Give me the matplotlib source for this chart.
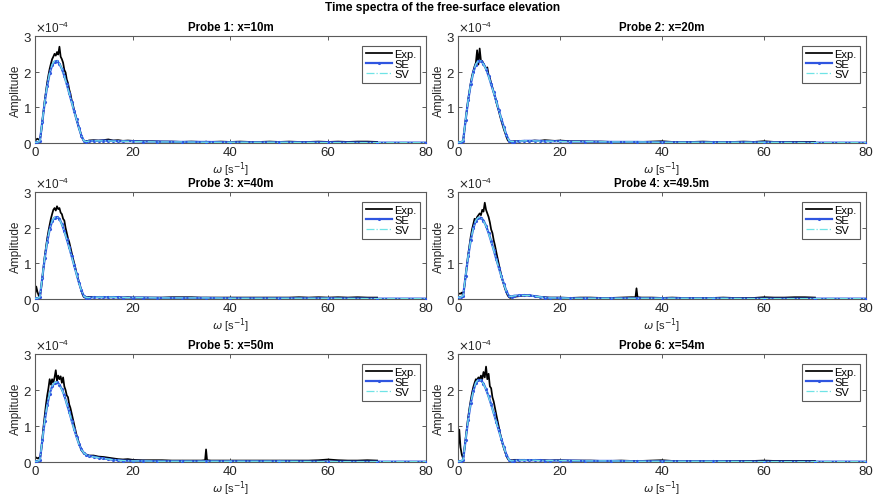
import matplotlib
matplotlib.use("Agg")
import matplotlib.pyplot as plt
from matplotlib.ticker import ScalarFormatter

plt.rcParams["font.family"] = ["Liberation Sans", "DejaVu Sans"]
plt.rcParams["mathtext.fontset"] = "dejavusans"

# ======================================================
# Data (amplitudes in units of 1e-4)
# ======================================================

titles = [
    "Probe 1: x=10m", "Probe 2: x=20m",
    "Probe 3: x=40m", "Probe 4: x=49.5m",
    "Probe 5: x=50m", "Probe 6: x=54m",
]

legend_labels = ["Exp.", "SE", "SV"]

# frequency samples of the experimental spectra
w_exp_peak = [0, 0.25, 0.5, 0.75, 1.0, 1.25, 1.5, 1.75, 2.0, 2.25, 2.5, 2.75,
              3.0, 3.25, 3.5, 3.75, 4.0, 4.25, 4.5, 4.75, 5.0, 5.25, 5.5, 5.75,
              6.0, 6.25, 6.5, 6.75, 7.0, 7.25, 7.5, 7.75, 8.0, 8.25, 8.5, 8.75,
              9.0, 9.25, 9.5, 9.75, 10.0, 10.25, 10.5, 10.75, 11.0]
w_exp_tail = [12, 13, 14, 15, 16, 17, 18, 19, 20, 22, 24, 26, 28, 30, 32, 34,
              34.8, 35, 35.2, 36, 38, 40, 42, 44, 46, 48, 50, 52, 54, 56, 58,
              60, 62, 64, 66, 68, 70]

# frequency samples of the model spectra
w_model = [0, 0.5, 1, 1.5, 2, 2.5, 3, 3.5, 4, 4.5, 5, 5.5, 6, 6.5, 7, 7.5, 8,
           8.5, 9, 9.5, 10, 10.5, 11, 12, 13, 14, 15, 16, 17, 18, 20, 22, 25,
           30, 35, 40, 50, 60, 70, 80]

# ----------------------------
# Experimental spectra
# ----------------------------

exp1_peak = [0.05, 0.10, 0.12, 0.10, 0.08, 0.30, 0.62, 0.90, 1.20, 1.45, 1.70, 1.90,
             2.08, 2.22, 2.35, 2.42, 2.50, 2.45, 2.55, 2.48, 2.70, 2.42, 2.35, 2.25,
             2.05, 1.98, 1.78, 1.68, 1.50, 1.38, 1.20, 1.08, 0.92, 0.80, 0.66, 0.55,
             0.42, 0.32, 0.20, 0.12, 0.06, 0.04, 0.06, 0.05, 0.07]
exp1_tail = [0.08, 0.07, 0.08, 0.10, 0.07, 0.08, 0.06, 0.07, 0.06, 0.05, 0.05, 0.04,
             0.04, 0.03, 0.04, 0.03, 0.03, 0.04, 0.03, 0.03, 0.04, 0.03, 0.04, 0.03,
             0.03, 0.04, 0.03, 0.04, 0.03, 0.03, 0.04, 0.03, 0.04, 0.03, 0.04, 0.04, 0.03]

exp2_peak = [0.03, 0.03, 0.03, 0.03, 0.05, 0.35, 0.65, 0.95, 1.22, 1.45, 1.68, 1.88,
             2.02, 2.15, 2.25, 2.60, 2.20, 2.65, 2.30, 2.30, 2.22, 2.15, 2.08, 2.12,
             1.90, 1.82, 1.68, 1.55, 1.42, 1.30, 1.15, 1.02, 0.90, 0.75, 0.62, 0.50,
             0.38, 0.28, 0.17, 0.08, 0.04, 0.03, 0.04, 0.04, 0.05]
exp2_tail = [0.05, 0.06, 0.05, 0.07, 0.06, 0.08, 0.07, 0.06, 0.07, 0.05, 0.05, 0.04,
             0.04, 0.03, 0.03, 0.03, 0.03, 0.03, 0.03, 0.03, 0.04, 0.05, 0.03, 0.03,
             0.03, 0.04, 0.03, 0.03, 0.03, 0.04, 0.03, 0.05, 0.03, 0.03, 0.03, 0.03, 0.03]

exp3_peak = [0.10, 0.35, 0.20, 0.10, 0.05, 0.30, 0.60, 0.90, 1.20, 1.45, 1.70, 1.90,
             2.08, 2.25, 2.38, 2.50, 2.55, 2.48, 2.60, 2.52, 2.55, 2.42, 2.38, 2.25,
             2.20, 2.00, 1.85, 1.70, 1.60, 1.45, 1.30, 1.15, 1.02, 0.88, 0.72, 0.60,
             0.46, 0.35, 0.22, 0.12, 0.05, 0.04, 0.05, 0.05, 0.06]
exp3_tail = [0.06, 0.05, 0.05, 0.05, 0.05, 0.05, 0.04, 0.05, 0.04, 0.04, 0.04, 0.04,
             0.05, 0.05, 0.05, 0.04, 0.04, 0.04, 0.04, 0.04, 0.04, 0.04, 0.04, 0.04,
             0.04, 0.04, 0.04, 0.04, 0.05, 0.04, 0.05, 0.04, 0.05, 0.04, 0.05, 0.04, 0.04]

exp4_peak = [0.15, 0.15, 0.15, 0.18, 0.10, 0.35, 0.65, 0.95, 1.25, 1.50, 1.75, 1.95,
             2.10, 2.25, 2.20, 2.30, 2.35, 2.40, 2.35, 2.50, 2.45, 2.70, 2.50, 2.40,
             2.30, 2.15, 1.95, 1.85, 1.65, 1.50, 1.32, 1.15, 0.98, 0.82, 0.66, 0.52,
             0.40, 0.28, 0.18, 0.10, 0.05, 0.03, 0.04, 0.05, 0.06]
exp4_tail = [0.08, 0.10, 0.10, 0.08, 0.06, 0.05, 0.04, 0.04, 0.04, 0.03, 0.04, 0.04,
             0.03, 0.03, 0.04, 0.05, 0.05, 0.30, 0.05, 0.04, 0.04, 0.03, 0.04, 0.03,
             0.03, 0.03, 0.03, 0.04, 0.03, 0.03, 0.03, 0.05, 0.04, 0.04, 0.05, 0.05, 0.04]

exp5_peak = [0.15, 0.12, 0.10, 0.12, 0.08, 0.30, 0.65, 1.00, 1.30, 1.60, 1.85, 2.05,
             2.30, 2.15, 2.30, 2.20, 2.35, 2.55, 2.25, 2.40, 2.30, 2.38, 2.20, 2.35,
             2.10, 2.00, 1.85, 1.80, 1.60, 1.50, 1.35, 1.20, 1.05, 0.90, 0.75, 0.65,
             0.52, 0.42, 0.34, 0.28, 0.24, 0.22, 0.20, 0.20, 0.18]
exp5_tail = [0.18, 0.15, 0.14, 0.12, 0.10, 0.08, 0.07, 0.08, 0.06, 0.05, 0.05, 0.05,
             0.04, 0.04, 0.04, 0.04, 0.05, 0.35, 0.05, 0.04, 0.04, 0.04, 0.04, 0.04,
             0.04, 0.04, 0.04, 0.04, 0.04, 0.04, 0.05, 0.07, 0.05, 0.04, 0.04, 0.05, 0.04]

exp6_peak = [0.30, 0.90, 0.40, 0.20, 0.10, 0.35, 0.65, 0.95, 1.25, 1.50, 1.72, 1.92,
             2.08, 2.20, 2.30, 2.28, 2.35, 2.30, 2.40, 2.30, 2.50, 2.35, 2.65, 2.30,
             2.45, 2.10, 2.05, 1.80, 1.68, 1.50, 1.32, 1.15, 0.98, 0.80, 0.65, 0.50,
             0.38, 0.27, 0.17, 0.09, 0.05, 0.04, 0.05, 0.05, 0.06]
exp6_tail = [0.06, 0.06, 0.05, 0.05, 0.05, 0.05, 0.04, 0.05, 0.05, 0.04, 0.04, 0.04,
             0.03, 0.03, 0.04, 0.03, 0.03, 0.03, 0.03, 0.03, 0.04, 0.05, 0.03, 0.03,
             0.03, 0.03, 0.03, 0.03, 0.03, 0.03, 0.03, 0.04, 0.03, 0.03, 0.03, 0.03, 0.03]

# ----------------------------
# Model spectra (SE / SV)
# ----------------------------

se1 = [0.02, 0.02, 0.05, 0.60, 1.15, 1.60, 1.95, 2.18, 2.28, 2.30, 2.22, 2.08, 1.88,
       1.65, 1.40, 1.15, 0.90, 0.66, 0.42, 0.20, 0.06, 0.04, 0.05, 0.06, 0.06, 0.07,
       0.06, 0.06, 0.05, 0.05, 0.05, 0.04, 0.04, 0.03, 0.03, 0.02, 0.02, 0.02, 0.01, 0.01]
sv1 = [0.02, 0.02, 0.06, 0.62, 1.17, 1.62, 1.97, 2.20, 2.30, 2.31, 2.23, 2.08, 1.87,
       1.64, 1.39, 1.14, 0.89, 0.65, 0.41, 0.20, 0.06, 0.04, 0.05, 0.06, 0.06, 0.06,
       0.06, 0.05, 0.05, 0.05, 0.04, 0.04, 0.03, 0.03, 0.02, 0.02, 0.02, 0.01, 0.01, 0.01]

se2 = [0.02, 0.02, 0.05, 0.65, 1.20, 1.65, 1.98, 2.20, 2.30, 2.30, 2.22, 2.08, 1.88,
       1.65, 1.42, 1.18, 0.92, 0.68, 0.44, 0.22, 0.07, 0.04, 0.04, 0.05, 0.06, 0.06,
       0.06, 0.06, 0.05, 0.05, 0.05, 0.04, 0.04, 0.03, 0.03, 0.02, 0.02, 0.02, 0.01, 0.01]
sv2 = [0.02, 0.02, 0.06, 0.66, 1.21, 1.66, 1.99, 2.21, 2.31, 2.30, 2.21, 2.07, 1.87,
       1.64, 1.41, 1.17, 0.91, 0.67, 0.43, 0.21, 0.07, 0.04, 0.04, 0.05, 0.06, 0.06,
       0.06, 0.05, 0.05, 0.05, 0.04, 0.04, 0.04, 0.03, 0.03, 0.02, 0.02, 0.02, 0.01, 0.01]

se3 = [0.02, 0.02, 0.05, 0.60, 1.15, 1.60, 1.95, 2.18, 2.28, 2.30, 2.25, 2.10, 1.90,
       1.68, 1.45, 1.20, 0.95, 0.70, 0.46, 0.24, 0.08, 0.04, 0.04, 0.05, 0.05, 0.05,
       0.05, 0.05, 0.05, 0.04, 0.04, 0.04, 0.03, 0.03, 0.03, 0.02, 0.02, 0.02, 0.01, 0.01]
sv3 = [0.02, 0.02, 0.06, 0.62, 1.17, 1.62, 1.96, 2.19, 2.29, 2.30, 2.24, 2.09, 1.89,
       1.67, 1.44, 1.19, 0.94, 0.69, 0.45, 0.23, 0.08, 0.04, 0.04, 0.05, 0.05, 0.05,
       0.05, 0.05, 0.04, 0.04, 0.04, 0.04, 0.03, 0.03, 0.03, 0.02, 0.02, 0.02, 0.01, 0.01]

se4 = [0.05, 0.05, 0.08, 0.65, 1.20, 1.65, 1.98, 2.20, 2.28, 2.28, 2.20, 2.05, 1.85,
       1.62, 1.38, 1.12, 0.88, 0.64, 0.42, 0.22, 0.08, 0.07, 0.09, 0.10, 0.11, 0.10,
       0.08, 0.06, 0.04, 0.03, 0.03, 0.02, 0.02, 0.02, 0.02, 0.02, 0.02, 0.01, 0.01, 0.01]
sv4 = [0.05, 0.05, 0.09, 0.66, 1.21, 1.66, 1.99, 2.21, 2.29, 2.28, 2.19, 2.04, 1.84,
       1.61, 1.37, 1.11, 0.87, 0.63, 0.41, 0.21, 0.08, 0.07, 0.09, 0.10, 0.10, 0.10,
       0.08, 0.06, 0.04, 0.03, 0.03, 0.02, 0.02, 0.02, 0.02, 0.02, 0.02, 0.01, 0.01, 0.01]

se5 = [0.02, 0.02, 0.05, 0.60, 1.15, 1.58, 1.90, 2.10, 2.20, 2.22, 2.15, 2.02, 1.85,
       1.62, 1.40, 1.15, 0.92, 0.70, 0.50, 0.35, 0.25, 0.20, 0.17, 0.15, 0.12, 0.10,
       0.08, 0.06, 0.05, 0.04, 0.03, 0.03, 0.02, 0.02, 0.02, 0.02, 0.02, 0.01, 0.01, 0.01]
sv5 = [0.02, 0.02, 0.06, 0.62, 1.17, 1.60, 1.91, 2.11, 2.21, 2.22, 2.14, 2.01, 1.84,
       1.61, 1.39, 1.14, 0.91, 0.69, 0.49, 0.34, 0.25, 0.20, 0.17, 0.14, 0.12, 0.10,
       0.08, 0.06, 0.05, 0.04, 0.03, 0.03, 0.02, 0.02, 0.02, 0.02, 0.02, 0.01, 0.01, 0.01]

se6 = [0.02, 0.02, 0.05, 0.62, 1.18, 1.63, 1.97, 2.20, 2.28, 2.27, 2.18, 2.02, 1.82,
       1.60, 1.36, 1.12, 0.88, 0.64, 0.41, 0.20, 0.06, 0.03, 0.04, 0.05, 0.05, 0.05,
       0.05, 0.05, 0.04, 0.04, 0.04, 0.04, 0.03, 0.03, 0.02, 0.02, 0.02, 0.01, 0.01, 0.01]
sv6 = [0.02, 0.02, 0.06, 0.63, 1.19, 1.64, 1.98, 2.21, 2.29, 2.27, 2.17, 2.01, 1.81,
       1.59, 1.35, 1.11, 0.87, 0.63, 0.40, 0.20, 0.06, 0.03, 0.04, 0.05, 0.05, 0.05,
       0.05, 0.04, 0.04, 0.04, 0.04, 0.04, 0.03, 0.03, 0.02, 0.02, 0.02, 0.01, 0.01, 0.01]

exp_peaks = [exp1_peak, exp2_peak, exp3_peak, exp4_peak, exp5_peak, exp6_peak]
exp_tails = [exp1_tail, exp2_tail, exp3_tail, exp4_tail, exp5_tail, exp6_tail]
se_all = [se1, se2, se3, se4, se5, se6]
sv_all = [sv1, sv2, sv3, sv4, sv5, sv6]

scale = 1e-4

# ======================================================
# Layout (axes boxes in pixels)
# ======================================================

W, H = 878, 502
col_px = [(35, 391), (458, 408)]
row_px = [(37, 144), (193, 300), (355, 463)]

text_col = "#262626"
spine_col = "#5a5a5a"


def draw_probe(ax, title, exp_vals, se_vals, sv_vals):

    w_exp = w_exp_peak + w_exp_tail

    ax.plot(w_exp, [v * scale for v in exp_vals],
            color="black", lw=1.25, label=legend_labels[0], zorder=2)
    ax.plot(w_model, [v * scale for v in se_vals],
            color="#2f55e0", lw=1.6, marker=".", markersize=2.5,
            label=legend_labels[1], zorder=3)
    ax.plot(w_model, [v * scale for v in sv_vals],
            color="#6fe3e6", lw=0.9, ls="-.", label=legend_labels[2], zorder=4)

    ax.set_xlim(0, 80)
    ax.set_ylim(0, 3e-4)
    ax.set_xticks([0, 20, 40, 60, 80])
    ax.set_yticks([0, 1e-4, 2e-4, 3e-4])

    fmt = ScalarFormatter(useMathText=True)
    fmt.set_powerlimits((-4, -4))
    ax.yaxis.set_major_formatter(fmt)
    ax.yaxis.get_offset_text().set_fontsize(8.5)
    ax.yaxis.get_offset_text().set_color("#555555")

    ax.tick_params(direction="in", top=True, right=True, length=3,
                   width=0.7, labelsize=9.5, colors=text_col, pad=2)
    ax.tick_params(color=spine_col)
    for sp in ax.spines.values():
        sp.set_color(spine_col)
        sp.set_linewidth(0.8)

    ax.set_title(title, fontsize=8.3, fontweight="bold", pad=4, color="black")
    ax.set_xlabel(r"$\omega$ [s$^{-1}$]", fontsize=8, labelpad=1, color=text_col)
    ax.set_ylabel("Amplitude", fontsize=8.5, labelpad=1, color=text_col)

    bb = ax.get_position()
    leg = ax.legend(loc="upper right",
                    bbox_to_anchor=(1 - 6 / (bb.width * W), 1 - 10 / (bb.height * H)),
                    borderaxespad=0, fontsize=8, frameon=True, fancybox=False,
                    framealpha=1, edgecolor=spine_col, handlelength=2.4,
                    handletextpad=0.2, labelspacing=0.0, borderpad=0.3)
    leg.get_frame().set_linewidth(0.8)


fig = plt.figure(figsize=(W / 100, H / 100), dpi=100)

for i in range(6):
    r, c = divmod(i, 2)
    x0, wpx = col_px[c]
    top, bot = row_px[r]
    ax = fig.add_axes([x0 / W, 1 - bot / H, wpx / W, (bot - top) / H])
    draw_probe(ax, titles[i], exp_peaks[i] + exp_tails[i], se_all[i], sv_all[i])

fig.text(443 / W, 1 - 8 / H, "Time spectra of the free-surface elevation",
         ha="center", va="center", fontsize=8.6, fontweight="bold")

fig.savefig("out.png", dpi=100)
